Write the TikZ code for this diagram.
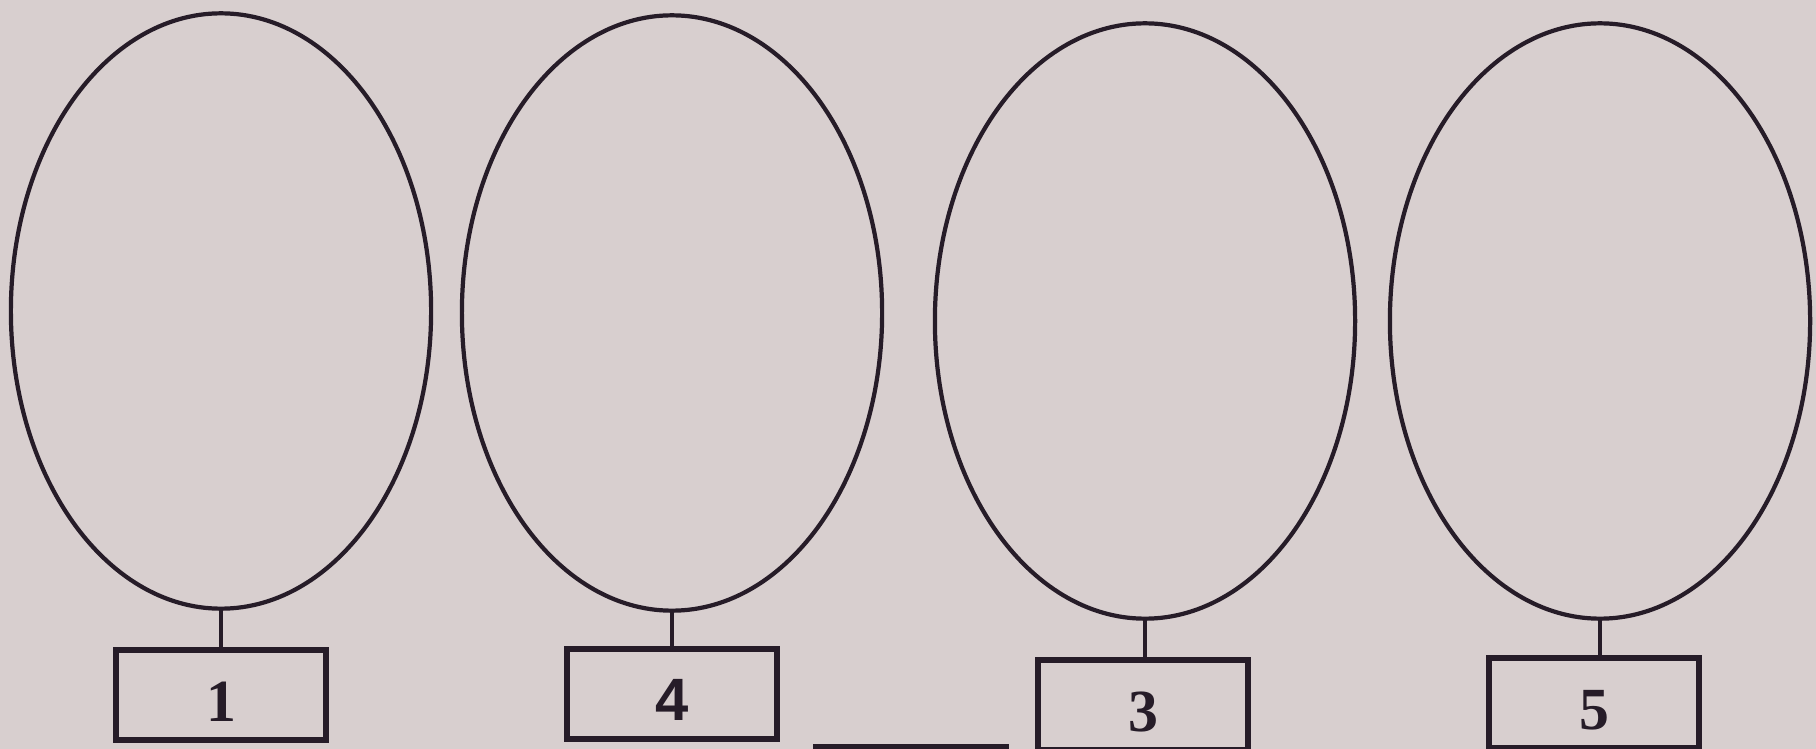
\documentclass[tikz,border=0pt]{standalone}
\usepackage{fontspec}
\setmainfont{Liberation Serif}
\newfontfamily\digitsans{Liberation Sans}
\usepackage{xcolor}
\usetikzlibrary{shapes,positioning}
\definecolor{paper}{RGB}{216,207,207}
\definecolor{ink}{RGB}{38,28,40}

\begin{document}
\begin{tikzpicture}[
                x=0.01cm, y=-0.01cm,
                egg/.style={ellipse, draw=ink, line width=1.2pt, minimum width=4.2cm, minimum height=5.95cm, inner sep=0pt},
                numbox/.style={rectangle, draw=ink, line width=1.5pt, minimum width=2.1cm, minimum height=0.9cm, inner sep=0pt, text height=15pt, text depth=0pt, font=\fontsize{17}{17}\selectfont\bfseries, text=ink},
                stem/.style={draw=ink, line width=1.3pt}
            ]
                % Paper background
                \fill[paper] (0,0) rectangle (1816,749);
                \clip (0,0) rectangle (1816,749);

                % Ovals, left to right
                \node[egg] (e1) at (221,311) {};
                \node[egg] (e2) at (672,313) {};
                \node[egg] (e3) at (1145,321) {};
                \node[egg] (e4) at (1600,321) {};

                % Number boxes below the ovals
                \node[numbox] (b1) at (221,695) {1};
                \node[numbox] (b2) at (672,694) {{\digitsans\bfseries 4}};
                \node[numbox] (b3) at (1143,705) {3};
                \node[numbox] (b4) at (1594,703) {5};

                % Box cut off by the bottom edge
                \node[numbox, minimum width=1.9cm] (bx) at (911,792) {};

                % Stems joining ovals and boxes
                \draw[stem] (e1.south) -- (e1.south |- b1.north);
                \draw[stem] (e2.south) -- (e2.south |- b2.north);
                \draw[stem] (e3.south) -- (e3.south |- b3.north);
                \draw[stem] (e4.south) -- (e4.south |- b4.north);
            \end{tikzpicture}
\end{document}
